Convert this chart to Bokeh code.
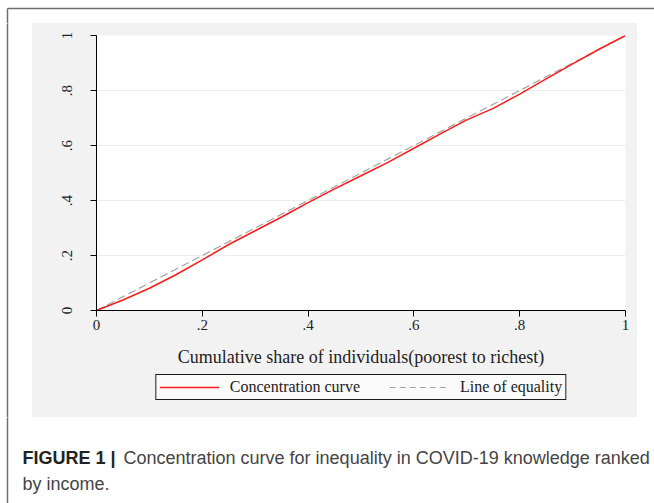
from bokeh.plotting import figure
from bokeh.layouts import column, row
from bokeh.models import Legend, LegendItem, FixedTicker, Range1d, Label, Spacer
from bokeh.embed import file_html
from bokeh.resources import INLINE

# ---- data ----
share_x = [0, 0.05, 0.1, 0.15, 0.2, 0.25, 0.3, 0.35, 0.4, 0.45, 0.5,
           0.55, 0.6, 0.65, 0.7, 0.75, 0.8, 0.85, 0.9, 0.95, 1.0]
conc_y = [0, 0.038, 0.081, 0.130, 0.184, 0.240, 0.290, 0.340, 0.392, 0.442, 0.490,
          0.538, 0.590, 0.642, 0.693, 0.735, 0.787, 0.842, 0.897, 0.950, 1.0]
equal_x = [0, 1]
equal_y = [0, 1]
tick_vals = [0, 0.2, 0.4, 0.6, 0.8, 1.0]
tick_labels = ["0", ".2", ".4", ".6", ".8", "1"]
grid_vals = [0.2, 0.4, 0.6, 0.8]
x_title = "Cumulative share of individuals(poorest to richest)"
series_names = ["Concentration curve", "Line of equality"]
caption_bold = "FIGURE 1 |"
caption_line1 = "Concentration curve for inequality in COVID-19 knowledge ranked"
caption_line2 = "by income."

SERIF = "Liberation Serif"
SANS = "Liberation Sans"
FRAME_C = "#6e6e6e"
GRAY_BG = "#f2f2f2"
RED = "#ff1a1a"
DASH_C = "#a3a3a3"


def blank(width, height, x_range=None, y_range=None, **kw):
    f = figure(width=width, height=height, output_backend="svg", toolbar_location=None,
               x_range=x_range or Range1d(0, 1), y_range=y_range or Range1d(0, 1), **kw)
    f.outline_line_color = None
    f.grid.visible = False
    return f


def frame_axis(ax):
    """Use a bare axis line as a page frame rule."""
    ax.ticker = FixedTicker(ticks=[])
    ax.major_tick_line_color = None
    ax.minor_tick_line_color = None
    ax.major_label_standoff = 0
    ax.axis_line_color = FRAME_C
    ax.axis_line_width = 1.5


# ---- top strip: frame corner ----
top = blank(654, 23, x_axis_location="above", y_axis_location="left",
            min_border_left=7, min_border_top=8, min_border_right=0, min_border_bottom=0)
top.background_fill_color = "white"
top.border_fill_color = "white"
frame_axis(top.xaxis[0])
frame_axis(top.yaxis[0])

# ---- left strip: frame rule ----
left = blank(32, 394, x_axis_location=None, y_axis_location="left",
             min_border_left=7, min_border_top=0, min_border_right=0, min_border_bottom=0)
left.background_fill_color = "white"
left.border_fill_color = "white"
frame_axis(left.yaxis[0])

right = Spacer(width=17, height=394, styles={"background-color": "white"})

# ---- main chart (grey panel) ----
p = figure(width=605, height=349, output_backend="svg", toolbar_location=None,
           x_range=Range1d(0, 1), y_range=Range1d(0, 1),
           min_border_left=64, min_border_right=12, min_border_top=12,
           min_border_bottom=62)
p.outline_line_color = None
p.background_fill_color = "white"
p.border_fill_color = GRAY_BG

p.xgrid.visible = False
p.ygrid.ticker = FixedTicker(ticks=grid_vals)
p.ygrid.grid_line_color = "#ececec"
p.ygrid.grid_line_width = 1

for ax in (p.xaxis[0], p.yaxis[0]):
    ax.ticker = FixedTicker(ticks=tick_vals)
    ax.major_label_overrides = {v: l for v, l in zip(tick_vals, tick_labels)}
    ax.minor_tick_line_color = None
    ax.major_tick_in = 0
    ax.major_tick_out = 6
    ax.axis_line_color = "black"
    ax.major_tick_line_color = "black"
    ax.major_label_text_font = SERIF
    ax.major_label_text_font_size = "15px"
    ax.major_label_text_color = "#222222"

p.xaxis.major_label_standoff = 3
p.xaxis.axis_label = x_title
p.xaxis.axis_label_text_font = SERIF
p.xaxis.axis_label_text_font_size = "18px"
p.xaxis.axis_label_text_font_style = "normal"
p.xaxis.axis_label_text_color = "#222222"
p.xaxis.axis_label_standoff = 14
p.yaxis.major_label_orientation = "vertical"
p.yaxis.major_label_standoff = 19

p.line(equal_x, equal_y, line_color=DASH_C, line_dash="8 4", line_width=1.2)
p.line(share_x, conc_y, line_color=RED, line_width=1.5)

# ---- legend panel (grey, frame aligned with chart frame) ----
leg = blank(605, 45, x_axis_location=None, y_axis_location=None,
            min_border_left=64, min_border_right=12, min_border_top=0, min_border_bottom=0)
leg.background_fill_color = GRAY_BG
leg.border_fill_color = GRAY_BG
# single-point keys: nothing visible is drawn, they only supply legend samples
k_cc = leg.line(x=share_x[:1], y=conc_y[:1], line_color=RED, line_width=1.5)
k_eq = leg.line(x=equal_x[:1], y=equal_y[:1], line_color=DASH_C, line_dash="6 4",
                line_width=1.2)
legend = Legend(items=[LegendItem(label=series_names[0], renderers=[k_cc]),
                       LegendItem(label=series_names[1], renderers=[k_eq])],
                orientation="horizontal", location="top_center",
                border_line_color="#1a1a1a", border_line_width=1, border_line_alpha=1,
                background_fill_color="#fafafa", background_fill_alpha=1,
                label_text_font=SERIF, label_text_font_size="16px",
                label_text_color="#222222",
                glyph_width=60, glyph_height=14, label_height=14,
                label_standoff=11, spacing=29, padding=3, margin=2)
leg.add_layout(legend)

# ---- caption ----
cap = blank(654, 86, x_range=Range1d(7, 654), y_range=Range1d(86, 0),
            x_axis_location=None, y_axis_location="left",
            min_border_left=7, min_border_top=0, min_border_right=0, min_border_bottom=0)
cap.background_fill_color = "white"
cap.border_fill_color = "white"
frame_axis(cap.yaxis[0])
cap.add_layout(Label(x=22, y=40, text=caption_bold, text_font=SANS,
                     text_font_size="18px", text_font_style="bold",
                     text_color="#222222", text_baseline="middle"))
cap.add_layout(Label(x=123, y=40, text=caption_line1, text_font=SANS,
                     text_font_size="18px", text_color="#444444",
                     text_baseline="middle"))
cap.add_layout(Label(x=22, y=66, text=caption_line2, text_font=SANS,
                     text_font_size="18px", text_color="#444444",
                     text_baseline="middle"))

chart = column(p, leg, spacing=0, styles={"background-color": GRAY_BG})
layout = column(top, row(left, chart, right, spacing=0), cap, spacing=0)

open("out.html", "w").write(file_html(layout, INLINE))
